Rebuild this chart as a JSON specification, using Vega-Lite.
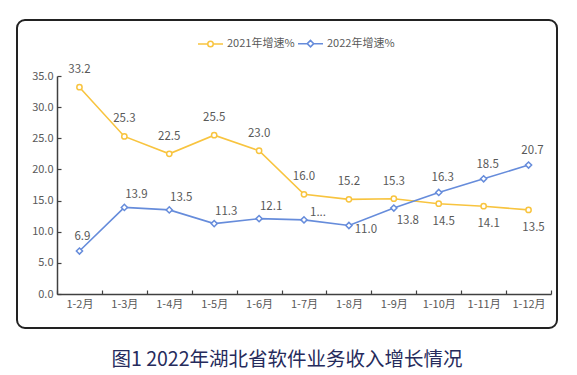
{
  "$schema": "https://vega.github.io/schema/vega-lite/v6.json",
  "width": 540,
  "height": 308,
  "autosize": "none",
  "padding": {"left": 17, "top": 20, "right": 20, "bottom": 47},
  "background": "white",
  "title": {
    "text": "图1 2022年湖北省软件业务收入增长情况",
    "orient": "bottom",
    "anchor": "middle",
    "font": "Noto Sans CJK SC",
    "fontSize": 19.5,
    "fontWeight": "normal",
    "color": "#262b5c",
    "offset": 23
  },
  "config": {
    "view": {"stroke": "#222222", "strokeWidth": 2, "cornerRadius": 8},
    "font": "Noto Sans CJK SC",
    "axis": {
      "labelFont": "Noto Sans CJK SC",
      "labelFontSize": 11,
      "labelColor": "#595959",
      "domainColor": "#404040",
      "domainWidth": 1.5,
      "tickColor": "#404040",
      "tickWidth": 1.2,
      "grid": false,
      "title": null
    },
    "legend": {
      "labelFont": "Noto Sans CJK SC",
      "labelFontSize": 11,
      "labelColor": "#595959"
    }
  },
  "data": {
    "values": [
      {"month": "1-2月", "series": "2021年增速%", "value": 33.2, "label": "33.2"},
      {"month": "1-3月", "series": "2021年增速%", "value": 25.3, "label": "25.3"},
      {"month": "1-4月", "series": "2021年增速%", "value": 22.5, "label": "22.5"},
      {"month": "1-5月", "series": "2021年增速%", "value": 25.5, "label": "25.5"},
      {"month": "1-6月", "series": "2021年增速%", "value": 23.0, "label": "23.0"},
      {"month": "1-7月", "series": "2021年增速%", "value": 16.0, "label": "16.0"},
      {"month": "1-8月", "series": "2021年增速%", "value": 15.2, "label": "15.2"},
      {"month": "1-9月", "series": "2021年增速%", "value": 15.3, "label": "15.3"},
      {"month": "1-10月", "series": "2021年增速%", "value": 14.5, "label": "14.5"},
      {"month": "1-11月", "series": "2021年增速%", "value": 14.1, "label": "14.1"},
      {"month": "1-12月", "series": "2021年增速%", "value": 13.5, "label": "13.5"},
      {"month": "1-2月", "series": "2022年增速%", "value": 6.9, "label": "6.9"},
      {"month": "1-3月", "series": "2022年增速%", "value": 13.9, "label": "13.9"},
      {"month": "1-4月", "series": "2022年增速%", "value": 13.5, "label": "13.5"},
      {"month": "1-5月", "series": "2022年增速%", "value": 11.3, "label": "11.3"},
      {"month": "1-6月", "series": "2022年增速%", "value": 12.1, "label": "12.1"},
      {"month": "1-7月", "series": "2022年增速%", "value": 11.9, "label": "1..."},
      {"month": "1-8月", "series": "2022年增速%", "value": 11.0, "label": "11.0"},
      {"month": "1-9月", "series": "2022年增速%", "value": 13.8, "label": "13.8"},
      {"month": "1-10月", "series": "2022年增速%", "value": 16.3, "label": "16.3"},
      {"month": "1-11月", "series": "2022年增速%", "value": 18.5, "label": "18.5"},
      {"month": "1-12月", "series": "2022年增速%", "value": 20.7, "label": "20.7"}
    ]
  },
  "encoding": {
    "x": {
      "field": "month",
      "type": "nominal",
      "scale": {
        "type": "band",
        "domain": ["1-2月","1-3月","1-4月","1-5月","1-6月","1-7月","1-8月","1-9月","1-10月","1-11月","1-12月"],
        "range": [40, 534],
        "paddingInner": 0,
        "paddingOuter": 0
      },
      "axis": {
        "offset": -34,
        "labelAngle": 0,
        "tickBand": "extent",
        "tickSize": -4,
        "labelPadding": 8
      }
    },
    "y": {
      "field": "value",
      "type": "quantitative",
      "scale": {"domain": [0, 35], "range": [274, 56], "nice": false, "zero": true},
      "axis": {
        "offset": -40,
        "values": [0, 5, 10, 15, 20, 25, 30, 35],
        "format": ".1f",
        "tickSize": -4,
        "labelPadding": 8
      }
    }
  },
  "layer": [
    {
      "mark": {"type": "line", "strokeWidth": 1.6},
      "encoding": {
        "color": {
          "field": "series",
          "type": "nominal",
          "scale": {"domain": ["2021年增速%", "2022年增速%"], "range": ["#F8C43F", "#668CDB"]},
          "legend": {
            "orient": "none",
            "legendX": 180,
            "legendY": 10,
            "direction": "horizontal",
            "title": null,
            "symbolSize": 625,
            "symbolStrokeWidth": 1.5,
            "labelOffset": 3,
            "columnPadding": 0
          }
        }
      }
    },
    {
      "transform": [{"filter": "datum.series === '2021年增速%'"}],
      "mark": {"type": "point", "shape": "circle", "filled": false, "fill": "white", "size": 28, "strokeWidth": 1.5, "opacity": 1},
      "encoding": {
        "color": {"field": "series", "type": "nominal", "legend": null}
      }
    },
    {
      "transform": [{"filter": "datum.series === '2022年增速%'"}],
      "mark": {"type": "point", "shape": "diamond", "filled": false, "fill": "white", "size": 38, "strokeWidth": 1.5, "opacity": 1},
      "encoding": {
        "color": {"field": "series", "type": "nominal", "legend": null}
      }
    },
    {
      "mark": {"type": "point", "filled": false, "strokeWidth": 1.5, "opacity": 1, "size": 0},
      "encoding": {
        "color": {
          "field": "series",
          "type": "nominal",
          "legend": {
            "orient": "none",
            "legendX": 180,
            "legendY": 10,
            "direction": "horizontal",
            "title": null,
            "symbolSize": 625,
            "symbolStrokeWidth": 1.5,
            "labelOffset": 3,
            "columnPadding": 0
          }
        },
        "shape": {
          "field": "series",
          "type": "nominal",
          "scale": {
            "domain": ["2021年增速%", "2022年增速%"],
            "range": [
              "M-1,0H-0.22M0.22,0H1M-0.22,0A0.22,0.22 0 1 0 0.22,0A0.22,0.22 0 1 0 -0.22,0Z",
              "M-1,0H-0.26M0.26,0H1M-0.26,0L0,-0.26L0.26,0L0,0.26Z"
            ]
          },
          "legend": {
            "orient": "none",
            "legendX": 180,
            "legendY": 10,
            "direction": "horizontal",
            "title": null,
            "symbolSize": 625,
            "symbolStrokeWidth": 1.5,
            "labelOffset": 3,
            "columnPadding": 0
          }
        }
      }
    },
    {
      "transform": [{"filter": {"and": [{"field": "series", "equal": "2021年增速%"}, {"field": "month", "oneOf": ["1-2月","1-3月","1-4月","1-5月","1-6月","1-7月","1-8月","1-9月"]}]}}],
      "mark": {"type": "text", "dx": 0, "dy": -17, "fontSize": 11.5, "color": "#595959"},
      "encoding": {"text": {"field": "label", "type": "nominal"}}
    },
    {
      "transform": [{"filter": {"and": [{"field": "series", "equal": "2021年增速%"}, {"field": "month", "oneOf": ["1-10月","1-11月","1-12月"]}]}}],
      "mark": {"type": "text", "dx": 5, "dy": 18, "fontSize": 11.5, "color": "#595959"},
      "encoding": {"text": {"field": "label", "type": "nominal"}}
    },
    {
      "transform": [{"filter": {"and": [{"field": "series", "equal": "2022年增速%"}, {"field": "month", "oneOf": ["1-2月"]}]}}],
      "mark": {"type": "text", "dx": 3, "dy": -14, "fontSize": 11.5, "color": "#595959"},
      "encoding": {"text": {"field": "label", "type": "nominal"}}
    },
    {
      "transform": [{"filter": {"and": [{"field": "series", "equal": "2022年增速%"}, {"field": "month", "oneOf": ["1-3月","1-4月","1-5月","1-6月"]}]}}],
      "mark": {"type": "text", "dx": 12, "dy": -12, "fontSize": 11.5, "color": "#595959"},
      "encoding": {"text": {"field": "label", "type": "nominal"}}
    },
    {
      "transform": [{"filter": {"and": [{"field": "series", "equal": "2022年增速%"}, {"field": "month", "oneOf": ["1-7月"]}]}}],
      "mark": {"type": "text", "dx": 14, "dy": -7, "fontSize": 11.5, "color": "#595959"},
      "encoding": {"text": {"field": "label", "type": "nominal"}}
    },
    {
      "transform": [{"filter": {"and": [{"field": "series", "equal": "2022年增速%"}, {"field": "month", "oneOf": ["1-8月"]}]}}],
      "mark": {"type": "text", "dx": 17, "dy": 5, "fontSize": 11.5, "color": "#595959"},
      "encoding": {"text": {"field": "label", "type": "nominal"}}
    },
    {
      "transform": [{"filter": {"and": [{"field": "series", "equal": "2022年增速%"}, {"field": "month", "oneOf": ["1-9月"]}]}}],
      "mark": {"type": "text", "dx": 14, "dy": 13, "fontSize": 11.5, "color": "#595959"},
      "encoding": {"text": {"field": "label", "type": "nominal"}}
    },
    {
      "transform": [{"filter": {"and": [{"field": "series", "equal": "2022年增速%"}, {"field": "month", "oneOf": ["1-10月","1-11月","1-12月"]}]}}],
      "mark": {"type": "text", "dx": 4, "dy": -14, "fontSize": 11.5, "color": "#595959"},
      "encoding": {"text": {"field": "label", "type": "nominal"}}
    }
  ]
}
